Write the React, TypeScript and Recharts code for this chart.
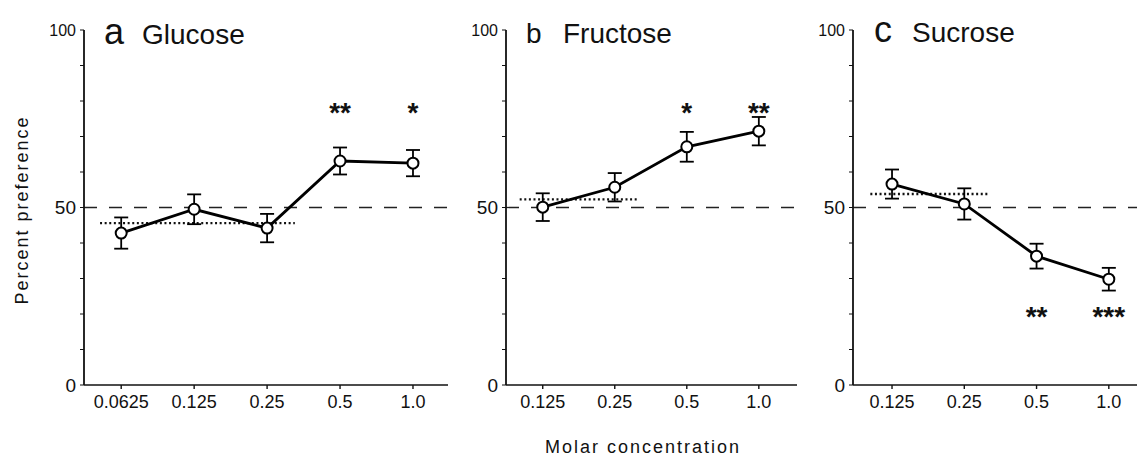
import React from 'react';
import {
  ComposedChart,
  Line,
  XAxis,
  YAxis,
  ErrorBar,
  ReferenceLine,
  Scatter,
} from 'recharts';

// panel a
const concA = ['0.0625', '0.125', '0.25', '0.5', '1.0'];
const glucose = [42.8, 49.5, 44.2, 63.1, 62.5];
const glucoseErr = [4.4, 4.2, 4.0, 3.8, 3.7];
const glucoseStars = ['', '', '', '**', '*'];

// panels b, c
const concBC = ['0.125', '0.25', '0.5', '1.0'];
const fructose = [50.1, 55.7, 67.1, 71.5];
const fructoseErr = [3.9, 4.0, 4.2, 4.0];
const fructoseStars = ['', '', '*', '**'];

const sucrose = [56.6, 51.0, 36.3, 29.8];
const sucroseErr = [4.1, 4.4, 3.5, 3.2];
const sucroseStars = ['', '', '**', '***'];

// dotted baseline (value, from, to in category units)
const baseA = [45.6, -0.29, 2.38];
const baseB = [52.3, -0.32, 1.32];
const baseC = [53.8, -0.3, 1.33];

const starLevelTop = 78.6;
const starLevelBottom = 21.1;

const yTicks = [0, 10, 20, 30, 40, 50, 60, 70, 80, 90, 100];
const FONT = '"Liberation Sans", Arial, sans-serif';

interface PanelProps {
  left: number;
  width: number;
  axisWidth: number;
  domain: [number, number];
  labels: string[];
  values: number[];
  errs: number[];
  stars: string[];
  starLevel: number;
  base: number[];
}

const YTick = (props: any) => {
  const { x, y, payload } = props;
  const v = payload.value;
  if (v !== 0 && v !== 50 && v !== 100) return null;
  return (
    <text
      x={x}
      y={y}
      dy="0.36em"
      textAnchor="end"
      fontFamily={FONT}
      fontSize={v === 100 ? 16 : 19}
      fill="#111"
    >
      {v}
    </text>
  );
};

const StarShape = (props: any) => {
  const { cx, cy, payload } = props;
  if (!payload.s) return null;
  return (
    <text
      x={cx}
      y={cy + 16}
      textAnchor="middle"
      fontFamily={FONT}
      fontWeight="bold"
      fontSize={28}
      fill="#111"
    >
      {payload.s}
    </text>
  );
};

function Panel(p: PanelProps) {
  const rows = p.values.map((v, i) => ({ x: i, v, err: p.errs[i] }));
  const starRows = p.stars.map((s, i) => ({ x: i, y: p.starLevel, s }));
  const [bv, bx0, bx1] = p.base;
  return (
    <div style={{ position: 'absolute', left: p.left, top: 0 }}>
      <ComposedChart
        width={p.width}
        height={456}
        data={rows}
        margin={{ top: 30, right: 0, left: 0, bottom: 31 }}
      >
        <XAxis
          dataKey="x"
          type="number"
          domain={p.domain}
          allowDataOverflow
          ticks={p.labels.map((_, i) => i)}
          tickFormatter={(v) => p.labels[v]}
          height={40}
          axisLine={{ stroke: '#111', strokeWidth: 1.6 }}
          tickLine={{ stroke: '#111', strokeWidth: 1.4 }}
          tickSize={4}
          tickMargin={6}
          tick={{ fontFamily: FONT, fontSize: 18, fill: '#111' }}
        />
        <YAxis
          type="number"
          domain={[0, 100]}
          ticks={yTicks}
          interval={0}
          width={p.axisWidth}
          axisLine={{ stroke: '#111', strokeWidth: 1.8 }}
          tickLine={{ stroke: '#111', strokeWidth: 1 }}
          tickSize={4}
          tickMargin={4}
          tick={<YTick />}
        />
        <ReferenceLine y={50} stroke="#222" strokeWidth={1.3} strokeDasharray="13 12" />
        <ReferenceLine
          segment={[
            { x: bx0, y: bv },
            { x: bx1, y: bv },
          ]}
          stroke="#111"
          strokeWidth={2.4}
          strokeDasharray="2 2.6"
        />
        <Line
          dataKey="v"
          stroke="#000"
          strokeWidth={2.8}
          isAnimationActive={false}
          dot={{ r: 5.5, fill: '#fff', stroke: '#000', strokeWidth: 2 }}
          activeDot={false}
        >
          <ErrorBar dataKey="err" width={7} stroke="#000" strokeWidth={1.8} direction="y" />
        </Line>
        <Scatter data={starRows} dataKey="y" shape={<StarShape />} isAnimationActive={false} />
      </ComposedChart>
    </div>
  );
}

export default function App() {
  return (
    <div
      style={{
        position: 'absolute',
        left: 0,
        top: 0,
        width: 1137,
        height: 456,
        background: '#fff',
        overflow: 'hidden',
      }}
    >
      <Panel
        left={0}
        width={448}
        axisWidth={84}
        domain={[-0.51, 4.48]}
        labels={concA}
        values={glucose}
        errs={glucoseErr}
        stars={glucoseStars}
        starLevel={starLevelTop}
        base={baseA}
      />
      <Panel
        left={460}
        width={337}
        axisWidth={46}
        domain={[-0.51, 3.53]}
        labels={concBC}
        values={fructose}
        errs={fructoseErr}
        stars={fructoseStars}
        starLevel={starLevelTop}
        base={baseB}
      />
      <Panel
        left={800}
        width={337}
        axisWidth={53}
        domain={[-0.54, 3.39]}
        labels={concBC}
        values={sucrose}
        errs={sucroseErr}
        stars={sucroseStars}
        starLevel={starLevelBottom}
        base={baseC}
      />
      <svg
        width={1137}
        height={456}
        style={{ position: 'absolute', left: 0, top: 0, pointerEvents: 'none' }}
        fontFamily={FONT}
        fill="#111"
      >
        <text x={104} y={44} fontSize={36}>a</text>
        <text x={142} y={44} fontSize={28}>Glucose</text>
        <text x={526} y={43} fontSize={28}>b</text>
        <text x={563} y={43} fontSize={28}>Fructose</text>
        <text x={874} y={42} fontSize={36}>c</text>
        <text x={912} y={42} fontSize={28}>Sucrose</text>
        <text
          x={0}
          y={0}
          fontSize={18}
          letterSpacing={2}
          textAnchor="middle"
          transform="translate(28,210) rotate(-90)"
        >
          Percent preference
        </text>
        <text x={643} y={453} fontSize={18} letterSpacing={2} textAnchor="middle">
          Molar concentration
        </text>
      </svg>
    </div>
  );
}
